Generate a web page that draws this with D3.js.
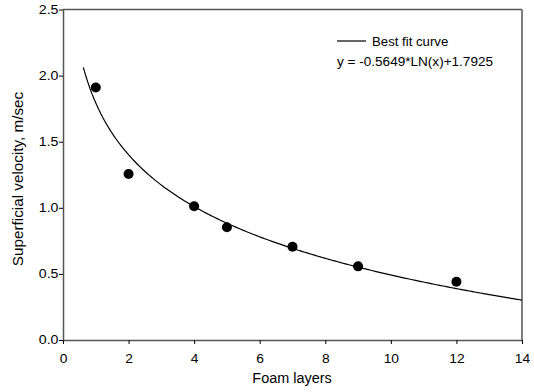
<!DOCTYPE html>
<html><head><meta charset="utf-8">
<script src="https://cdn.jsdelivr.net/npm/d3@7"></script>
<style>body{margin:0;background:#fff}svg{display:block}text{font-family:"Liberation Sans",Arial,sans-serif}</style>
</head><body><svg id="c" width="534" height="392"></svg>
<script>
const layers = [1, 2, 4, 5, 7, 9, 12];
const velocity = [1.91, 1.255, 1.012, 0.853, 0.706, 0.557, 0.44];
const xTicks = [0, 2, 4, 6, 8, 10, 12, 14];
const yTicks = [0.0, 0.5, 1.0, 1.5, 2.0, 2.5];
const fitA = -0.5649, fitB = 1.7925;
const fitRange = [0.62, 14];

const svg = d3.select("#c");
const m = {l: 63, r: 522, t: 9.5, b: 340};
const x = d3.scaleLinear().domain([0, 14]).range([m.l, m.r]);
const y = d3.scaleLinear().domain([0, 2.5]).range([m.b, m.t]);
const axisCol = "#555";

function stretch(sel, k) {
  sel.each(function () {
    const w = this.getComputedTextLength();
    d3.select(this).attr("textLength", w * k).attr("lengthAdjust", "spacingAndGlyphs");
  });
}

// frame top/right
svg.append("line").attr("x1", m.l).attr("x2", m.r).attr("y1", m.t).attr("y2", m.t).attr("stroke", axisCol).attr("stroke-width", 1.5);
svg.append("line").attr("x1", m.r).attr("x2", m.r).attr("y1", m.t).attr("y2", m.b).attr("stroke", axisCol).attr("stroke-width", 1.5);

const xa = svg.append("g").attr("transform", `translate(0,${m.b})`)
  .call(d3.axisBottom(x).tickValues(xTicks).tickFormat(d3.format("d")).tickSize(4).tickSizeOuter(0));
const ya = svg.append("g").attr("transform", `translate(${m.l},0)`)
  .call(d3.axisLeft(y).tickValues(yTicks).tickFormat(d3.format(".1f")).tickSize(4).tickSizeOuter(0));
[xa, ya].forEach(g => {
  g.select(".domain").attr("stroke", axisCol).attr("stroke-width", 1.5);
  g.selectAll(".tick line").attr("stroke", "#000");
  g.selectAll(".tick text").attr("font-size", 12).attr("fill", "#000").attr("font-family", '"Liberation Sans",Arial,sans-serif');
});
xa.selectAll(".tick text").attr("y", 23).attr("dy", 0);
ya.selectAll(".tick text").attr("x", -4.5);
stretch(xa.selectAll(".tick text"), 1.15);
stretch(ya.selectAll(".tick text"), 1.18);

// fit curve
const n = 200;
const fitPts = d3.range(n + 1).map(i => {
  const xv = fitRange[0] + (fitRange[1] - fitRange[0]) * i / n;
  return [xv, fitA * Math.log(xv) + fitB];
});
svg.append("path").datum(fitPts)
  .attr("d", d3.line().x(d => x(d[0])).y(d => y(d[1])))
  .attr("fill", "none").attr("stroke", "#000").attr("stroke-width", 1.2);

// points
svg.selectAll("circle.pt").data(layers).join("circle").attr("class", "pt")
  .attr("cx", d => x(d)).attr("cy", (d, i) => y(velocity[i])).attr("r", 5).attr("fill", "#000");

// legend
svg.append("line").attr("x1", 337).attr("x2", 366).attr("y1", 41).attr("y2", 41).attr("stroke", "#000").attr("stroke-width", 1.2);
const l1 = svg.append("text").attr("x", 372).attr("y", 46).attr("font-size", 12).text("Best fit curve");
const l2 = svg.append("text").attr("x", 337).attr("y", 65.5).attr("font-size", 12).text("y = -0.5649*LN(x)+1.7925");
stretch(l1, 1.1);
stretch(l2, 1.13);

// titles
const tx = svg.append("text").attr("x", 292).attr("y", 383).attr("text-anchor", "middle").attr("font-size", 14).text("Foam layers");
const ty = svg.append("text").attr("transform", `translate(23,179) rotate(-90)`).attr("text-anchor", "middle").attr("font-size", 14).text("Superficial velocity, m/sec");
stretch(tx, 1.03);
stretch(ty, 1.09);
</script></body></html>
